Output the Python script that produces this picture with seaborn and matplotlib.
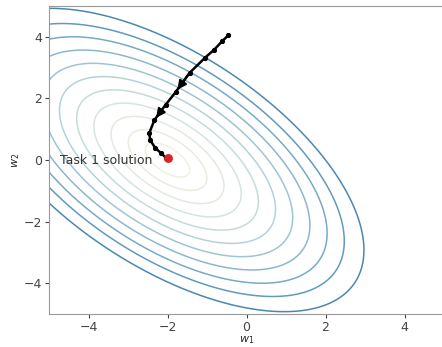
import numpy as np
import matplotlib
matplotlib.use("Agg")
import matplotlib.pyplot as plt
from matplotlib.colors import LinearSegmentedColormap
import seaborn as sns

# loss surface of task 1 (quadratic bowl, centre = task 1 solution)
center_x, center_y = -2.0, 0.0
quad_a, quad_b, quad_c = 1.0, 0.6, 1.02
levels = [0.45, 0.8, 1.15, 1.5, 1.85, 2.2, 2.55, 2.9, 3.25, 3.6, 4.0]
contour_colors = ["#f3efe0", "#dde8df", "#b3d2d8", "#7fb0c9", "#4a88b0"]

# optimisation path
traj_x = [-0.46, -0.62, -0.82, -1.05, -1.44, -1.79, -2.05, -2.18, -2.33, -2.46, -2.44, -2.31, -2.17, -2.03]
traj_y = [4.05, 3.85, 3.58, 3.32, 2.83, 2.21, 1.79, 1.56, 1.30, 0.88, 0.65, 0.39, 0.23, 0.06]
arrow_at = [4, 7]

solution_x, solution_y = [-2.0], [0.05]
label_text = "Task 1 solution"

sns.set_style("ticks")
fig = plt.figure(figsize=(4.42, 3.47), dpi=100)
ax = fig.add_axes([49 / 442, 33 / 347, 395 / 442, 308 / 347])

xs = np.linspace(-5, 5, 500)
ys = np.linspace(-5, 5, 500)
X, Y = np.meshgrid(xs, ys)
dx, dy = X - center_x, Y - center_y
Z = np.sqrt(quad_a * dx ** 2 + 2 * quad_b * dx * dy + quad_c * dy ** 2)
cmap = LinearSegmentedColormap.from_list("pale", contour_colors)
ax.contour(X, Y, Z, levels=levels, cmap=cmap, linewidths=1.1)

sns.lineplot(x=traj_x, y=traj_y, sort=False, estimator=None, color="black", lw=1.8,
             marker="o", markersize=3, markeredgecolor="black", ax=ax)
for i in arrow_at:
    ax.annotate("", xy=(traj_x[i + 1], traj_y[i + 1]), xytext=(traj_x[i], traj_y[i]),
                arrowprops=dict(arrowstyle="-|>", color="black", lw=1.5, mutation_scale=13))
sns.scatterplot(x=solution_x, y=solution_y, color="#d62728", s=35, zorder=5,
                edgecolor="#d62728", ax=ax)
ax.text(-4.72, -0.02, label_text, fontsize=9, color="#333333", va="center", ha="left")

ax.set_xlim(-5, 5)
ax.set_ylim(-5, 5)
ax.set_xticks([-4, -2, 0, 2, 4])
ax.set_yticks([-4, -2, 0, 2, 4])
ax.tick_params(labelsize=9, colors="#444444", length=3, pad=2)
for s in ax.spines.values():
    s.set_color("#999999")
ax.set_xlabel("$w_1$", fontsize=8, labelpad=0)
ax.set_ylabel("$w_2$", fontsize=8, labelpad=1)

fig.savefig("out.png", dpi=100)
